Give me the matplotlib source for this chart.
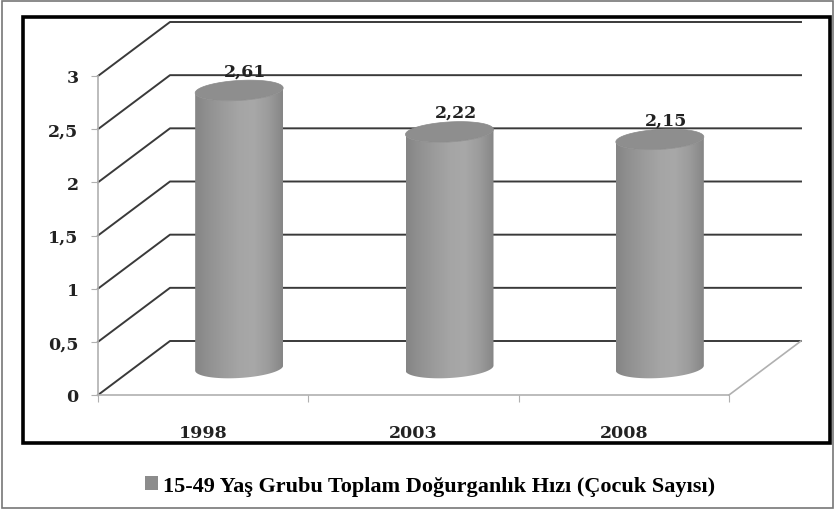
import numpy as np
import matplotlib.pyplot as plt
from matplotlib.patches import Polygon, Rectangle, Patch
from matplotlib.colors import LinearSegmentedColormap

years = ["1998", "2003", "2008"]
values = [2.61, 2.22, 2.15]
value_labels = ["2,61", "2,22", "2,15"]
yticks = [0, 0.5, 1, 1.5, 2, 2.5, 3]
ytick_labels = ["0", "0,5", "1", "1,5", "2", "2,5", "3"]
legend_label = "15-49 Yaş Grubu Toplam Doğurganlık Hızı (Çocuk Sayısı)"

W, H = 834, 510
fig = plt.figure(figsize=(W / 100, H / 100), dpi=100)
fig.patch.set_facecolor("white")

# front plot area in pixels
x0, x1, y0, y1 = 98, 729, 396, 77
ax = fig.add_axes([x0 / W, 1 - y0 / H, (x1 - x0) / W, (y0 - y1) / H])
ax.set_xlim(-0.5, 2.5)
ax.set_ylim(0, 3)
ax.set_facecolor("none")

# depth offset of the back wall (data units)
DX = 72 / ((x1 - x0) / 3)
DY = 54 / ((y0 - y1) / 3)

grid_col = "#3a3a3a"
for v in yticks:
    ax.plot([-0.5, -0.5 + DX, 2.5 + DX], [v, v + DY, v + DY],
            color=grid_col, lw=1.4, clip_on=False, zorder=1)
ax.plot([2.5, 2.5 + DX], [0, DY], color="#b0b0b0", lw=1.2, clip_on=False, zorder=1)

# axes styling
for s in ["top", "right"]:
    ax.spines[s].set_visible(False)
for s in ["left", "bottom"]:
    ax.spines[s].set_color("#b0b0b0")
    ax.spines[s].set_linewidth(1.2)
ax.set_yticks(yticks)
ax.set_yticklabels(ytick_labels)
ax.tick_params(axis="y", length=5, color="#b0b0b0", pad=9)
ax.set_xticks([-0.5, 0.5, 1.5, 2.5])
ax.set_xticklabels([])
ax.tick_params(axis="x", which="major", length=5, color="#b0b0b0", direction="out")
ax.set_xticks([0, 1, 2], minor=True)
ax.set_xticklabels(years, minor=True)
ax.tick_params(axis="x", which="minor", length=0, pad=21)
for lab in ax.get_yticklabels() + ax.get_xticklabels(minor=True):
    lab.set_fontfamily("DejaVu Serif")
    lab.set_fontweight("bold")
    lab.set_fontsize(12.5)
    lab.set_color("#222222")

# cylinders
rx = 44 / ((x1 - x0) / 3)
ry = 10 / ((y0 - y1) / 3)
tilt = 2.5 / ((y0 - y1) / 3)
t = np.linspace(0, 2 * np.pi, 200)
body_cmap = LinearSegmentedColormap.from_list(
    "cyl", ["#858585", "#929292", "#9c9c9c", "#a5a5a5", "#a8a8a8", "#9c9c9c", "#868686"])
grad = np.linspace(0, 1, 256).reshape(1, -1)

for i, v in enumerate(values):
    cx = i + DX / 2
    yb = DY / 2
    yt = v + DY / 2
    tf = np.linspace(np.pi, 2 * np.pi, 100)
    bx = cx + rx * np.cos(tf)
    by = yb + ry * np.sin(tf) + tilt * np.cos(tf)
    tx = (cx + rx * np.cos(tf))[::-1]
    ty = (yt + ry * np.sin(tf) + tilt * np.cos(tf))[::-1]
    body = Polygon(np.column_stack([np.r_[bx, tx], np.r_[by, ty]]),
                   closed=True, facecolor="none", edgecolor="none", zorder=3)
    ax.add_patch(body)
    im = ax.imshow(grad, cmap=body_cmap, aspect="auto", zorder=3,
                   extent=[cx - rx, cx + rx, yb - ry - tilt, yt + ry + tilt])
    im.set_clip_path(body)
    top = Polygon(np.column_stack([cx + rx * np.cos(t),
                                   yt + ry * np.sin(t) + tilt * np.cos(t)]),
                  closed=True, facecolor="#8e8e8e", edgecolor="#8a8a8a", lw=0.5, zorder=4)
    ax.add_patch(top)
    ax.text(cx + 0.03, yt + ry + 0.01, value_labels[i], ha="center", va="bottom",
            fontsize=12.5, fontweight="bold", family="DejaVu Serif", color="#222222",
            zorder=5)

ax.set_xlim(-0.5, 2.5)
ax.set_ylim(0, 3)

# frames
fig.patches.append(Rectangle((23 / W, 1 - 444 / H), (830 - 23) / W, (444 - 18) / H,
                             transform=fig.transFigure, fill=False,
                             edgecolor="black", lw=2.6))
fig.patches.append(Rectangle((1.5 / W, 1.5 / H), (W - 3) / W, (H - 3) / H,
                             transform=fig.transFigure, fill=False,
                             edgecolor="#777777", lw=1.2))

fig.legend(handles=[Patch(facecolor="#8c8c8c", edgecolor="none")], labels=[legend_label],
           loc="center", bbox_to_anchor=(0.516, 1 - 487 / H), frameon=False,
           handlelength=0.55, handleheight=0.55, handletextpad=0.25,
           prop={"family": "Liberation Serif", "weight": "bold", "size": 16})

fig.savefig("out.png", dpi=100)
